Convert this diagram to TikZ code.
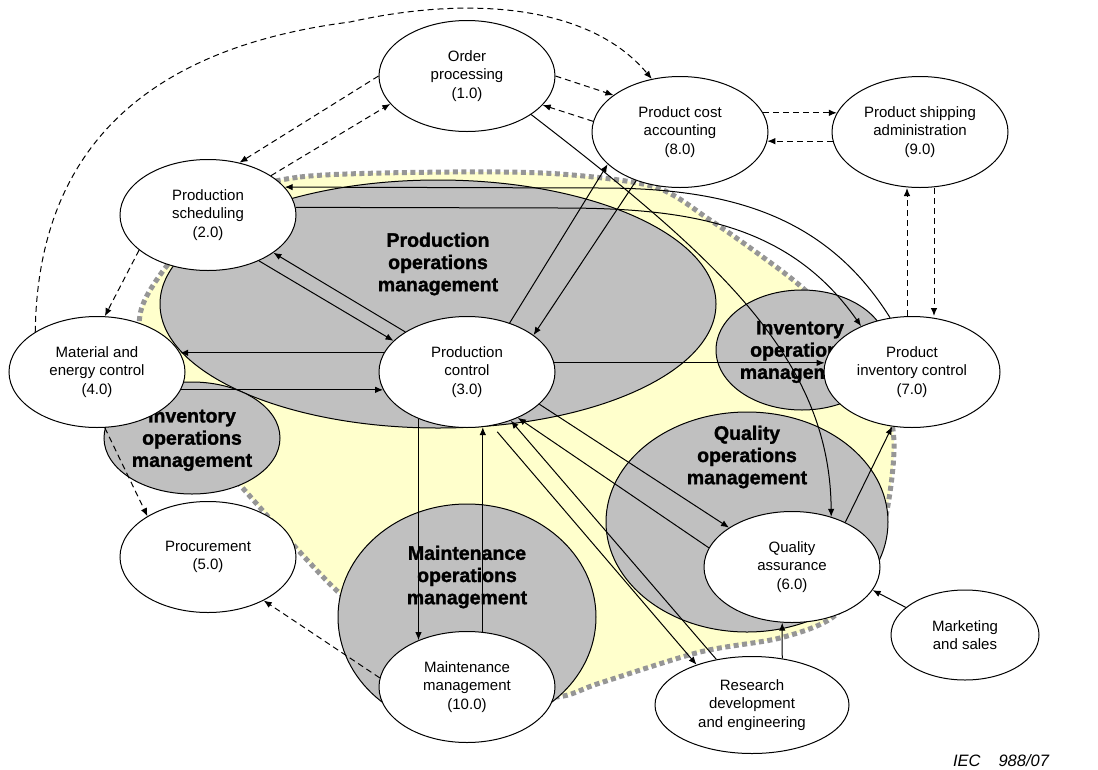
\documentclass[tikz,border=0pt]{standalone}
\usepackage{fontspec}
\setmainfont{Liberation Sans}
\newfontfamily\heavyfont{Liberation Sans Bold}[FakeBold=1.5]
\usetikzlibrary{arrows.meta,shapes.geometric}
\definecolor{opsgrey}{RGB}{192,192,192}
\definecolor{zoneyellow}{RGB}{255,255,204}
\definecolor{zonedots}{RGB}{150,150,150}
\newcommand{\FlowTip}{Latex[length=8,width=6.5]}
\tikzset{proc/.style={draw,ellipse,fill=white,inner sep=0,minimum width=176,minimum height=111,align=center,font=\fontsize{15}{18.7}\selectfont}}
\tikzset{opsarea/.style={draw,ellipse,fill=opsgrey,inner sep=0}}
\tikzset{opslabel/.style={align=center,font=\heavyfont\fontsize{19.5}{22.2}\selectfont}}
\tikzset{flow/.style={-{\FlowTip}}}
\tikzset{info/.style={-{\FlowTip},dash pattern=on 6pt off 4pt}}
\begin{document}
\begin{tikzpicture}[x=1pt,y=-1pt,line width=1pt]
\useasboundingbox (0,0) rectangle (1098,769);
\draw[zonedots,fill=zoneyellow,line width=5pt,dash pattern=on 5pt off 3.5pt] plot[smooth cycle] coordinates {(230,200) (300,177) (450,172) (560,174) (655,187) (710,220) (760,255) (805,290) (865,350) (893,430) (888,505) (870,570) (833,617) (780,638) (700,652) (600,683) (555,697) (470,690) (400,640) (333,587) (240,485) (185,420) (140,330) (160,275)};
\node[opsarea,minimum width=556,minimum height=248] (poparea) at (438,304) {};
\node[opsarea,minimum width=176,minimum height=112] (ioparealeft) at (192,438) {};
\node[opsarea,minimum width=172,minimum height=120] (ioarearight) at (802,350) {};
\node[opsarea,minimum width=282,minimum height=220] (qoparea) at (747,522) {};
\node[opsarea,minimum width=258,minimum height=226] (moparea) at (467,617) {};
\node[opslabel] (poplabel) at (438,264) {Production\\operations\\management};
\node[opslabel] (ioplabelleft) at (192,440) {Inventory\\operations\\management};
\node[opslabel] (ioplabelright) at (800,352) {Inventory\\operations\\management};
\node[opslabel] (qoplabel) at (747,457) {Quality\\operations\\management};
\node[opslabel] (moplabel) at (467,577) {Maintenance\\operations\\management};
\node[proc] (order) at (467,76) {Order\\processing\\(1.0)};
\node[proc] (cost) at (680,132) {Product cost\\accounting\\(8.0)};
\node[proc] (ship) at (920,132) {Product shipping\\administration\\(9.0)};
\node[proc] (sched) at (208,215) {Production\\scheduling\\(2.0)};
\node[proc] (mat) at (97,372) {Material and\\energy control\\(4.0)};
\node[proc] (pc) at (467,372) {Production\\control\\(3.0)};
\node[proc] (inv) at (912,372) {Product\\inventory control\\(7.0)};
\node[proc] (qa) at (792,567) {Quality\\assurance\\(6.0)};
\node[proc] (proc) at (208,557) {Procurement\\(5.0)};
\node[proc] (mm) at (467,687) {Maintenance\\management\\(10.0)};
\node[proc,minimum width=148,minimum height=90] (mkt) at (965,635) {Marketing\\and sales};
\node[proc,minimum width=194,minimum height=97] (rd) at (752,705) {Research\\development\\and engineering};
\node[font=\fontsize{16.5}{19}\selectfont\itshape] (iecno) at (1001,761) {IEC\hspace{18pt}988/07};
\draw[info] (mat.147) .. controls (38,130) and (170,45) .. (350,22) .. controls (470,-5) and (590,5) .. (cost.118);
\draw[info] (order.180) -- (sched.59);
\draw[info] (sched.32) -- (order.200);
\draw[info] (order.0) -- (cost.151);
\draw[info] (cost.173) -- (order.-21);
\draw[info] (cost.13) -- (ship.167);
\draw[info] (ship.186) -- (cost.-6);
\draw[info] ([xshift=-5]inv.north) -- ([xshift=-13]ship.south);
\draw[info] ([xshift=14]ship.south) -- ([xshift=22]inv.north);
\draw[info] (sched.207) -- (mat.82);
\draw[info] (mat.-82) -- (proc.146);
\draw[info] (mm.174) -- (proc.-38);
\draw[flow] (pc.49) -- (cost.204);
\draw[flow] (cost.228) -- (pc.29);
\draw[flow] (order.-31) .. controls (720,260) and (830,360) .. (qa.52);
\draw[flow] (inv.112) to[out=122,in=0] (600,188) -- (sched.20);
\draw[flow] (sched.5) -- (560,208) to[out=0,in=125] (inv.138);
\draw[flow] (sched.-42) -- (pc.157);
\draw[flow] (pc.147) -- (sched.-30);
\draw[flow] (pc.167) -- (mat.13);
\draw[flow] (mat.-12) -- (pc.192);
\draw[flow] (pc.6) -- (inv.174);
\draw[flow] (pc.224.4) -- (mm.136.2);
\draw[flow] (mm.74.5) -- (pc.-74.7);
\draw[flow] (pc.-24) -- (qa.148);
\draw[flow] (qa.167) -- (pc.-42);
\draw[flow,shorten <=8] (pc.-65) -- (rd.144);
\draw[flow] (rd.128) -- (pc.-48);
\draw[flow] (rd.57) -- (qa.260);
\draw[flow] (qa.40) -- (inv.250);
\draw[flow] (mkt.155) -- (qa.-16);
\end{tikzpicture}
\end{document}
